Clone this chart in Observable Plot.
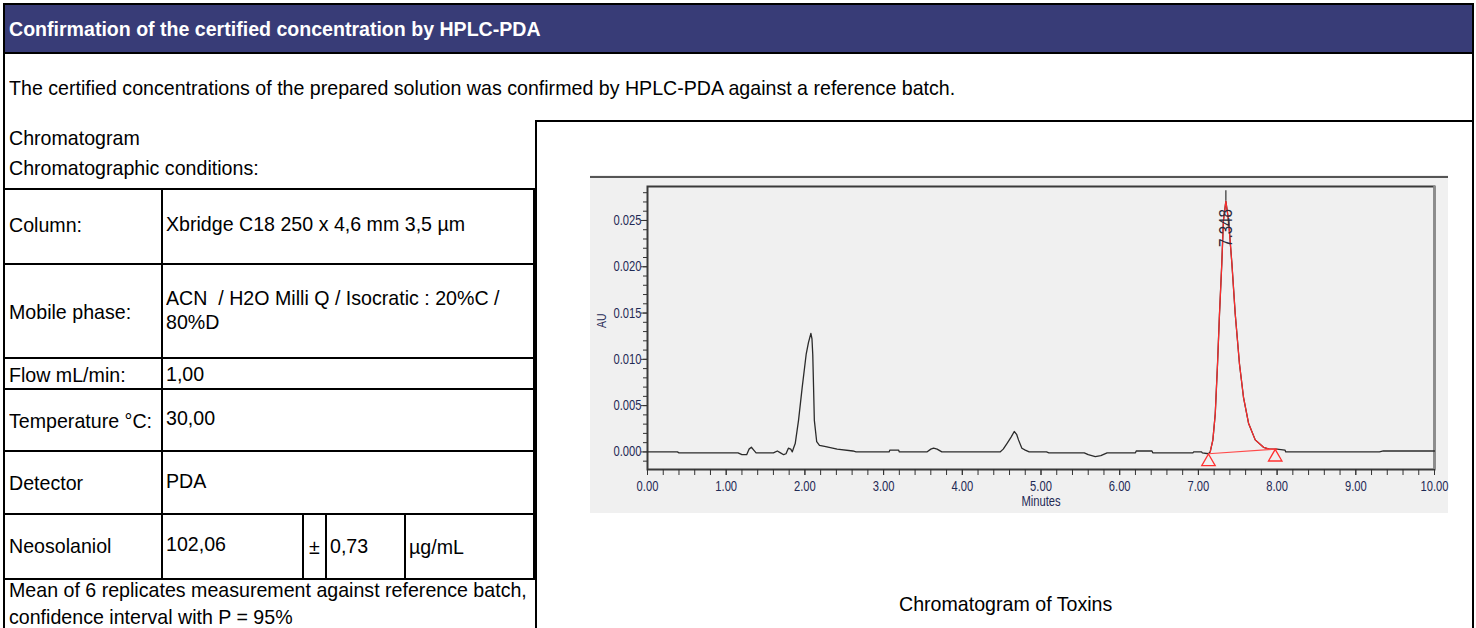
<!DOCTYPE html>
<html>
<head>
<meta charset="utf-8">
<script src="https://cdn.jsdelivr.net/npm/d3@7"></script>
<script src="https://cdn.jsdelivr.net/npm/@observablehq/plot@0.6"></script>
<style>
html,body{margin:0;padding:0;background:#fff;overflow:hidden;}
#page{position:relative;width:1476px;height:628px;overflow:hidden;font-family:"Liberation Sans",Arial,sans-serif;color:#000;background:#fff;}
.t{position:absolute;white-space:pre;font-size:21px;line-height:24px;transform-origin:0 50%;}
.h{font-weight:bold;color:#fff;}
.ln{position:absolute;background:#000;}
#chartbox{position:absolute;left:590px;top:175px;width:858px;height:338px;background:#f0f0f0;}
#chartbox svg{display:block;}
</style>
</head>
<body>
<div id="page"><div id="chartbox"></div></div>
<script>
// ---------- document text ----------
const headerText = "Confirmation of the certified concentration by HPLC-PDA";
const introText = "The certified concentrations of the prepared solution was confirmed by HPLC-PDA against a reference batch.";
const sectionLines = ["Chromatogram", "Chromatographic conditions:"];
const condLabels = ["Column:", "Mobile phase:", "Flow mL/min:", "Temperature °C:", "Detector"];
const condValues = [["Xbridge C18 250 x 4,6 mm 3,5 µm"], ["ACN  / H2O Milli Q / Isocratic : 20%C /", "80%D"], ["1,00"], ["30,00"], ["PDA"]];
const analyteRow = ["Neosolaniol", "102,06", "±", "0,73", "µg/mL"];
const footnoteLines = ["Mean of 6 replicates measurement against reference batch,", "confidence interval with P = 95%"];
const captionText = "Chromatogram of Toxins";

// ---------- chromatogram data (minutes, AU) ----------
const times = [0.00,0.10,0.20,0.30,0.38,0.40,0.70,1.00,1.15,1.20,1.26,1.29,1.32,1.35,1.38,1.60,1.65,1.69,1.73,1.76,1.79,1.82,1.84,
  1.855,1.877,1.919,1.966,2.017,2.045,2.076,2.09,2.10,2.11,2.12,2.15,2.185,2.25,2.41,2.61,2.65,
  3.07,3.08,3.19,3.20,3.55,3.60,3.635,3.68,3.74,
  4.48,4.52,4.567,4.62,4.66,4.69,4.714,4.757,4.80,4.85,
  5.07,5.10,5.40,5.55,5.60,5.69,5.76,5.84,6.20,6.21,6.41,6.42,6.93,6.94,7.04,7.05,
  7.128,7.150,7.184,7.214,7.243,7.268,7.297,7.318,7.349,7.383,7.426,7.468,7.522,7.573,7.637,7.722,7.827,7.90,7.998,
  8.10,8.11,9.30,9.35,10.00];
const absorbance = [0.0000,0.0000,0.0000,0.0000,0.0000,-0.0001,-0.0001,-0.0001,-0.0001,-0.0003,-0.0003,0.0003,0.0005,0.0002,-0.0001,-0.0001,0.0001,-0.0001,-0.0003,-0.0002,0.0004,0.0003,0.0000,
  0.0004,0.0009,0.0034,0.0070,0.0106,0.0118,0.0128,0.0122,0.0105,0.0070,0.0034,0.0011,0.0007,0.0006,0.0003,0.0001,0.0000,
  0.0000,0.0002,0.0002,0.0000,0.0000,0.0003,0.0004,0.0003,0.0000,
  0.0000,0.0003,0.0009,0.0016,0.0022,0.0019,0.0013,0.0004,0.0002,0.0000,
  0.0000,-0.0001,-0.0001,-0.0001,-0.0003,-0.0005,-0.0004,-0.0001,-0.0001,0.0001,0.0001,-0.0001,-0.0001,0.0000,0.0000,-0.0001,
  -0.0002,0.0000,0.0013,0.0041,0.0095,0.0149,0.0203,0.0250,0.0271,0.0250,0.0203,0.0149,0.0095,0.0059,0.0031,0.0013,0.0005,0.0003,0.0003,
  0.0002,0.0000,0.0000,0.0001,0.0001];

// integrated peak window and baseline points
const integTimes = [7.128, 7.976];
const integAU = [-0.0002, 0.0003];
const peakWindow = [7.15, 7.998];
// detected peak
const peakRT = [7.349];
const peakApexAU = [0.0271];
const peakMarkTopAU = [0.0282];
const peakLabels = ["7.348"];

// axis ticks
const xMajorTicks = [0,1,2,3,4,5,6,7,8,9,10];
const xMinorTicks = d3.range(0, 51).map(i => i / 5);
const yMajorTicks = [0, 0.005, 0.010, 0.015, 0.020, 0.025];
const yMinorTicks = d3.range(-1, 29).map(i => i / 1000);

// ---------- page layout ----------
const page = document.getElementById("page");
function line(x, y, w, h, color) {
  const d = document.createElement("div");
  d.className = "ln";
  d.style.left = x + "px"; d.style.top = y + "px";
  d.style.width = w + "px"; d.style.height = h + "px";
  if (color) d.style.background = color;
  page.appendChild(d);
}
function txt(s, x, cy, cls) {
  const d = document.createElement("div");
  d.className = "t" + (cls ? " " + cls : "");
  d.textContent = s;
  d.style.left = x + "px";
  d.style.top = (cy - 12) + "px";
  page.appendChild(d);
  return d;
}

// header bar
line(3, 3, 1471, 50, "#383c77");
line(3, 3, 1471, 2);
line(3, 52, 1471, 2);
line(3, 3, 2, 625);
line(1472, 3, 2, 625);
// right chart box
line(535, 120, 939, 2);
line(535, 120, 2, 508);
// left table grid
const rowLines = [188, 263, 357, 388, 450, 513, 578];
rowLines.forEach(y => line(3, y, 532, 2));
line(161, 188, 2, 390);
line(533, 188, 2, 390);
[302, 325, 404].forEach(x => line(x, 513, 2, 65));

const regular = [];
const hdr = txt(headerText, 9, 29, "h");
const intro = txt(introText, 9, 88);
regular.push(intro);
regular.push(txt(sectionLines[0], 9, 138));
regular.push(txt(sectionLines[1], 9, 168));
const labelCY = [225, 312, 375, 421, 483];
const valueCY = [[224], [298, 322], [374], [418], [481]];
condLabels.forEach((s, i) => regular.push(txt(s, 9, labelCY[i])));
condValues.forEach((vals, i) => vals.forEach((s, j) => regular.push(txt(s, 166, valueCY[i][j]))));
const analyteX = [9, 166, 309, 330, 409];
const analyteCY = [546, 544, 547, 546, 547];
analyteRow.forEach((s, i) => regular.push(txt(s, analyteX[i], analyteCY[i])));
regular.push(txt(footnoteLines[0], 9, 590));
regular.push(txt(footnoteLines[1], 9, 617));
const cap = txt(captionText, 0, 604);
regular.push(cap);

const k = 946 / intro.offsetWidth;
regular.forEach(el => el.style.transform = `scaleX(${k})`);
cap.style.left = (1005 - cap.offsetWidth * k / 2) + "px";
const kh = 532 / hdr.offsetWidth;
hdr.style.transform = `scaleX(${kh})`;

// ---------- chart ----------
const trace = times.map((t, i) => ({t, au: absorbance[i]}));
const peakTrace = trace.filter(d => d.t >= peakWindow[0] && d.t <= peakWindow[1]);
const integ = integTimes.map((t, i) => ({t, au: integAU[i]}));
const peaks = peakRT.map((t, i) => ({t, apex: peakApexAU[i], top: peakMarkTopAU[i], label: peakLabels[i]}));

const tickColor = "#333";
const labelColor = "#1f2a55";
const chart = Plot.plot({
  width: 858,
  height: 338,
  marginLeft: 57,
  marginRight: 14,
  marginTop: 11,
  marginBottom: 44,
  x: {domain: [0, 10]},
  y: {domain: [-0.0019, 0.02867]},
  style: {background: "#f0f0f0", fontFamily: "Liberation Sans, Arial, sans-serif", fontSize: "14px", color: labelColor, overflow: "visible"},
  marks: [
    Plot.frame({stroke: "#3a3a3a", strokeWidth: 2}),
    Plot.ruleX([10], {stroke: "#8c8c8c", strokeWidth: 2.5}),
    Plot.axisY(yMinorTicks, {tickSize: 4, tickFormat: () => "", stroke: tickColor, label: null}),
    Plot.axisY(yMajorTicks, {tickSize: 6, tickPadding: 0, tickFormat: d3.format(".3f"), stroke: tickColor, fontSize: 14, label: null}),
    Plot.axisX(xMinorTicks, {tickSize: 6, tickFormat: () => "", stroke: tickColor, label: null}),
    Plot.axisX(xMajorTicks, {tickSize: 6, tickPadding: 6, tickFormat: d3.format(".2f"), stroke: tickColor, fontSize: 14, label: null}),
    Plot.line(trace, {x: "t", y: "au", stroke: "#2b2b2b", strokeWidth: 1.3}),
    Plot.line(peakTrace, {x: "t", y: "au", stroke: "#ff2b2b", strokeWidth: 1.2}),
    Plot.line(integ, {x: "t", y: "au", stroke: "#ff4a4a", strokeWidth: 1.2}),
    Plot.dot(integ, {x: "t", y: "au", symbol: "triangle", r: 5, stroke: "#ff3030", fill: "none", strokeWidth: 1.3, dy: 8}),
    Plot.ruleX(peaks, {x: "t", y1: "apex", y2: "top", stroke: "#333", strokeWidth: 1.2}),
    Plot.text(peaks, {x: "t", y: "apex", text: "label", rotate: -90, textAnchor: "end", lineAnchor: "middle", dy: 8, fontSize: 19, fill: "#2a2a3a"}),
    Plot.text(["AU"], {frameAnchor: "left", dx: -46, rotate: -90, text: d => d, fontSize: 13, fill: labelColor}),
    Plot.text(["Minutes"], {frameAnchor: "bottom", dy: 36, text: d => d, fontSize: 14, fill: labelColor})
  ]
});
chart.querySelectorAll("text").forEach(el => {
  const tr = el.getAttribute("transform") || "";
  el.setAttribute("transform", (tr + " scale(0.8,1)").trim());
});
const box = document.getElementById("chartbox");
box.appendChild(chart);
// thin rule along top of the chart panel
const topRule = document.createElement("div");
topRule.style.cssText = "position:absolute;left:0;top:1px;width:858px;height:1.5px;background:#555;";
box.appendChild(topRule);
</script>
</body>
</html>
